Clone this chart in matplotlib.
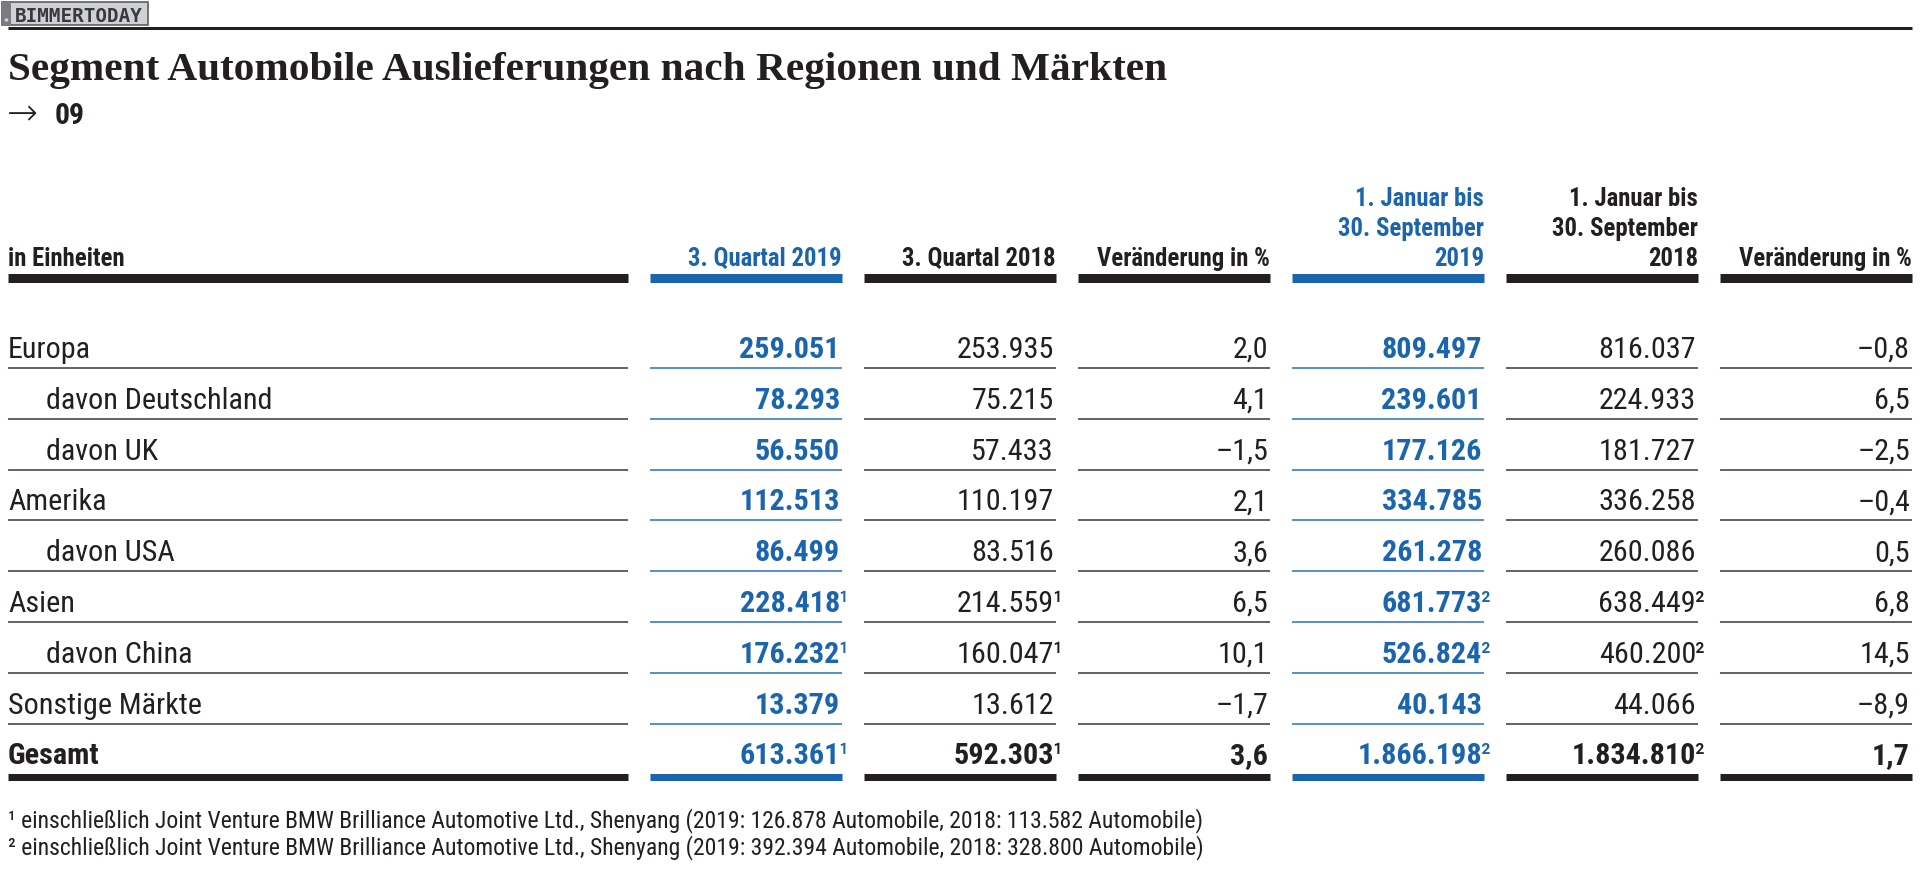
import matplotlib
matplotlib.use("Agg")
import matplotlib.pyplot as plt
from matplotlib import font_manager as fm
from matplotlib.patches import Rectangle, Circle

# =====================================================
# DATA
# =====================================================
regions = ["Europa", "davon Deutschland", "davon UK", "Amerika", "davon USA",
           "Asien", "davon China", "Sonstige Märkte", "Gesamt"]
q3_2019 = [259051, 78293, 56550, 112513, 86499, 228418, 176232, 13379, 613361]
q3_2018 = [253935, 75215, 57433, 110197, 83516, 214559, 160047, 13612, 592303]
q3_change = [2.0, 4.1, -1.5, 2.1, 3.6, 6.5, 10.1, -1.7, 3.6]
ytd_2019 = [809497, 239601, 177126, 334785, 261278, 681773, 526824, 40143, 1866198]
ytd_2018 = [816037, 224933, 181727, 336258, 260086, 638449, 460200, 44066, 1834810]
ytd_change = [-0.8, 6.5, -2.5, -0.4, 0.5, 6.8, 14.5, -8.9, 1.7]
q3_note = ["", "", "", "", "", "¹", "¹", "", "¹"]
ytd_note = ["", "", "", "", "", "²", "²", "", "²"]

headers = ["3. Quartal 2019", "3. Quartal 2018", "Veränderung in %",
           "1. Januar bis\n30. September\n2019",
           "1. Januar bis\n30. September\n2018", "Veränderung in %"]
highlight = [True, False, False, True, False, False]

title = "Segment Automobile Auslieferungen nach Regionen und Märkten"
footnotes = [
    "¹ einschließlich Joint Venture BMW Brilliance Automotive Ltd., Shenyang "
    "(2019: 126.878 Automobile, 2018: 113.582 Automobile)",
    "² einschließlich Joint Venture BMW Brilliance Automotive Ltd., Shenyang "
    "(2019: 392.394 Automobile, 2018: 328.800 Automobile)",
]

# =====================================================
# STYLE
# =====================================================
BLUE = "#1b64ae"
BLUE_LINE = "#3f7fc1"
INK = "#231f20"
GRAY_LINE = "#4f4b4c"

names = {f.name for f in fm.fontManager.ttflist}


def pick(cands, default):
    for c in cands:
        if c in names:
            return c
    return default


SANS = pick(["Roboto Condensed", "Liberation Sans Narrow", "Roboto"], "DejaVu Sans")
SERIF = pick(["Liberation Serif", "DejaVu Serif"], "DejaVu Serif")


def fmt_int(v):
    return f"{v:,}".replace(",", ".")


def fmt_pct(v):
    s = f"{abs(v):.1f}".replace(".", ",")
    return "\u2013" + s if v < 0 else s


# =====================================================
# FIGURE (pixel coordinates)
# =====================================================
fig = plt.figure(figsize=(19.2, 8.69), dpi=100)
ax = fig.add_axes([0, 0, 1, 1])
ax.set_xlim(0, 1920)
ax.set_ylim(869, 0)
ax.axis("off")
renderer = fig.canvas.get_renderer()


def fit_size(text, family, weight, width_px, size0=20):
    t = ax.text(0, 0, text, fontsize=size0, family=family, weight=weight)
    w = t.get_window_extent(renderer).width
    t.remove()
    return size0 * width_px / w


PX = 0.72  # points per pixel

# sizes fitted to the reference widths
body_fs = fit_size("253.935", SANS, "normal", 97)
head_fs = fit_size("3. Quartal 2019", SANS, "bold", 154)
foot_fs = fit_size(footnotes[0], SANS, "normal", 1192)
title_fs = fit_size(title, SERIF, "bold", 1158)

# --- watermark box
ax.add_patch(Rectangle((2, 2), 146, 23, facecolor="#cfd1d6", edgecolor="#5e5e5e", lw=1.2))
ax.add_patch(Rectangle((2, 2), 9, 23, facecolor="#7a7c80", edgecolor="none"))
ax.add_patch(Circle((6.5, 20), 1.8, facecolor="#cfd1d6", edgecolor="none"))
wm_fs = fit_size("BIMMERTODAY", "DejaVu Sans Mono", "bold", 128)
ax.text(15, 22, "BIMMERTODAY", fontsize=wm_fs, family="DejaVu Sans Mono",
        weight="bold", color="#3a3a3a", va="baseline")

# --- top rule, title, reference number
ax.hlines(28, 8, 1912, color=INK, lw=3 * PX)
ax.text(8, 80, title, fontsize=title_fs, family=SERIF, weight="bold",
        color=INK, va="baseline")
ax.text(7, 124, "\u2192", fontsize=fit_size("\u2192", "DejaVu Sans", "light", 31),
        family=["DejaVu Sans"], weight="light", color=INK, va="baseline")
ax.text(55, 124, "09", fontsize=head_fs * 1.2, family=SANS, weight="bold",
        color=INK, va="baseline")

# --- columns
label_x0, label_x1 = 8, 628
col_start = [650 + 214 * j for j in range(6)]
col_end = [s + 192 for s in col_start]

header_base = 266
line_gap = 30
ax.text(label_x0, header_base, "in Einheiten", fontsize=head_fs, family=SANS,
        weight="bold", color=INK, va="baseline")
ax.hlines(278, label_x0, label_x1, color=INK, lw=9 * PX)
for j, h in enumerate(headers):
    c = BLUE if highlight[j] else INK
    parts = h.split("\n")
    for k, part in enumerate(reversed(parts)):
        ax.text(col_end[j], header_base - k * line_gap, part, fontsize=head_fs,
                family=SANS, weight="bold", color=c, ha="right", va="baseline")
    ax.hlines(278, col_start[j], col_end[j], color=c, lw=9 * PX)

# --- body rows
first_line = 368
pitch = 50.8
columns = [q3_2019, q3_2018, q3_change, ytd_2019, ytd_2018, ytd_change]
notes = [q3_note, q3_note, None, ytd_note, ytd_note, None]
last = len(regions) - 1

for i, name in enumerate(regions):
    y_line = first_line + i * pitch
    base = y_line - 10
    bold = i == last
    w = "bold" if bold else "normal"
    indent = 38 if name.startswith("davon") else 0
    ax.text(label_x0 + indent, base, name, fontsize=body_fs, family=SANS,
            weight=w, color=INK, va="baseline")
    for j, vals in enumerate(columns):
        v = vals[i]
        s = fmt_pct(v) if isinstance(v, float) else fmt_int(v)
        c = BLUE if highlight[j] else INK
        ww = "bold" if (bold or highlight[j]) else "normal"
        ax.text(col_end[j] - 2, base, s, fontsize=body_fs, family=SANS,
                weight=ww, color=c, ha="right", va="baseline")
        if notes[j] is not None and notes[j][i]:
            ax.text(col_end[j] - 3.5, base, notes[j][i], fontsize=body_fs,
                    family=SANS, weight="normal", color=c, ha="left", va="baseline")

    if bold:
        yb = y_line + 3
        ax.hlines(yb, label_x0, label_x1, color=INK, lw=7 * PX)
        for j in range(6):
            ax.hlines(yb, col_start[j], col_end[j],
                      color=BLUE if highlight[j] else INK, lw=7 * PX)
    else:
        ax.hlines(y_line, label_x0, label_x1, color=GRAY_LINE, lw=1.7 * PX)
        for j in range(6):
            ax.hlines(y_line, col_start[j], col_end[j],
                      color=BLUE_LINE if highlight[j] else GRAY_LINE, lw=1.7 * PX)

# --- footnotes
for k, f in enumerate(footnotes):
    ax.text(8, 827 + 27 * k, f, fontsize=foot_fs, family=SANS, color=INK,
            va="baseline")

fig.savefig("out.png", dpi=100, facecolor="white")
